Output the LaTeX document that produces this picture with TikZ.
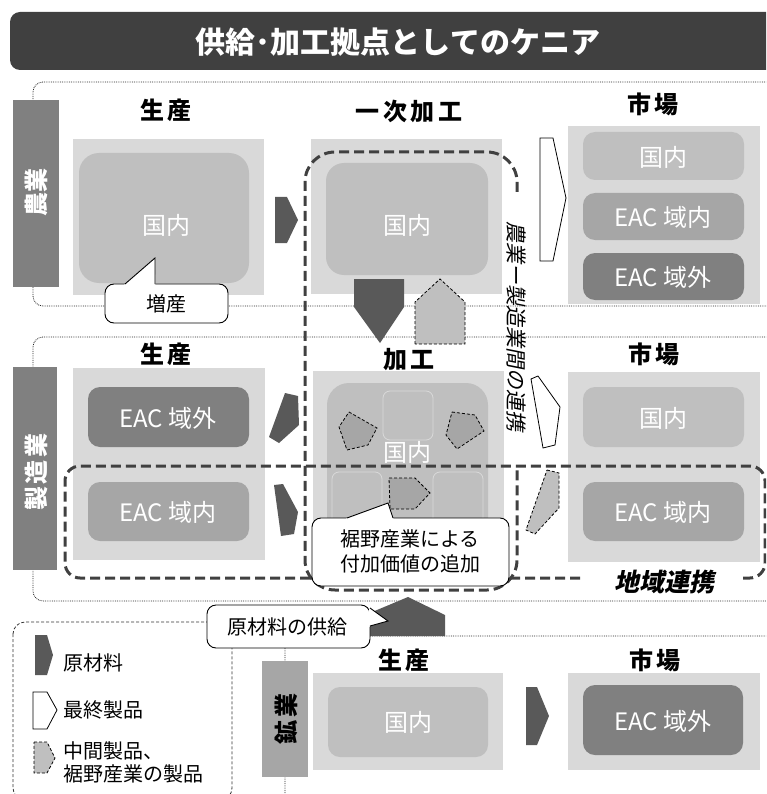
\documentclass[tikz,border=0pt]{standalone}
\usepackage{fontspec}
\setmainfont{Noto Sans CJK JP}
\newfontfamily\hdrfont[LetterSpace=15]{Noto Sans CJK JP}
\newfontfamily\vlfont[LetterSpace=12]{Noto Sans CJK JP}
\newfontfamily\slfont[FakeSlant=0.2]{Noto Sans CJK JP}
\definecolor{titlegray}{HTML}{404040}
\definecolor{panelc}{HTML}{D9D9D9}
\definecolor{innerA}{HTML}{BFBFBF}
\definecolor{innerB}{HTML}{A6A6A6}
\definecolor{innerC}{HTML}{808080}
\definecolor{darkarr}{HTML}{595959}
\definecolor{dashcol}{HTML}{404040}
\begin{document}
\begin{tikzpicture}[x=1pt,y=-1pt,
  panelbg/.style={fill=panelc},
  innerbox/.style={rounded corners=12pt},
  ptxt/.style={text=white,font=\fontsize{24}{28}\selectfont},
  hdr/.style={font=\hdrfont\bfseries\fontsize{24}{28}\selectfont},
  sect/.style={densely dotted, line width=0.8pt, black!85},
  regdash/.style={dashcol, line width=3pt, dash pattern=on 10pt off 5pt},
  callout/.style={fill=white, draw=black, line width=0.9pt, rounded corners=9pt},
  arrdark/.style={fill=darkarr},
  arrwhite/.style={fill=white, draw=black, line width=0.8pt},
  arrgray/.style={fill=innerA, draw=black, line width=0.8pt, dash pattern=on 3pt off 2pt},
  arrgrayB/.style={fill=innerB, draw=black, line width=0.8pt, dash pattern=on 3pt off 2pt},
  lbl/.style={font=\fontsize{20}{24}\selectfont},
  subbox/.style={draw=panelc, line width=0.8pt, rounded corners=7pt},
]
\useasboundingbox (0,0) rectangle (766,794);
\clip (0,0) rectangle (766,794);

% title
\fill[titlegray, rounded corners=10pt] (10,12) rectangle (790,70);
\node[text=white, font=\bfseries\fontsize{30}{33}\selectfont] (title) at (398,42) {供給･加工拠点としてのケニア};

% section borders
\draw[sect, rounded corners=10pt] (790,82) -- (33,82) -- (33,306) -- (790,306);
\draw[sect, rounded corners=10pt] (790,337) -- (33,337) -- (33,601) -- (790,601);
\draw[sect, rounded corners=10pt] (285,800) -- (285,636) -- (790,636);

% side labels
\fill[innerC] (13,100) rectangle (59,287);
\node[rotate=90, text=white, font=\bfseries\fontsize{24}{28}\selectfont] (lagri) at (36,193) {農業};
\fill[innerC] (13,367) rectangle (57,570);
\node[rotate=90, text=white, font=\vlfont\bfseries\fontsize{24}{28}\selectfont] (lmanu) at (36,472) {製造業};
\fill[innerB] (262,661) rectangle (308,777);
\node[rotate=90, text=black, font=\vlfont\bfseries\fontsize{24}{28}\selectfont] (lmine) at (286,719) {鉱業};

% headers
\node[hdr] (h1) at (166,110) {生産};
\node[hdr] (h2) at (409,111) {一次加工};
\node[hdr] (h3) at (653,104) {市場};
\node[hdr] (h4) at (166,354) {生産};
\node[hdr] (h5) at (409,360) {加工};
\node[hdr] (h6) at (654,354) {市場};
\node[hdr] (h7) at (404,660) {生産};
\node[hdr] (h8) at (655,660) {市場};

% top row panels
\fill[panelbg] (73,139) rectangle (264,295);
\fill[innerA, rounded corners=20pt] (79,153) rectangle (249,283);
\node[ptxt] (t1) at (166,225) {国内};
\fill[panelbg] (311,139) rectangle (502,294);
\fill[innerA, rounded corners=18pt] (326,163) rectangle (488,275);
\node[ptxt] (t2) at (407,225) {国内};
\fill[panelbg] (568,126) rectangle (760,304);
\fill[innerA, innerbox] (583,132) rectangle (744,180);
\node[ptxt] (t3) at (663,157) {国内};
\fill[innerB, innerbox] (583,193) rectangle (744,240);
\node[ptxt] (t4) at (663,217) {EAC 域内};
\fill[innerC, innerbox] (583,253) rectangle (744,300);
\node[ptxt] (t5) at (663,277) {EAC 域外};

% middle row panels
\fill[panelbg] (73,368) rectangle (265,560);
\fill[innerC, innerbox] (88,387) rectangle (249,447);
\node[ptxt] (m1) at (168,418) {EAC 域外};
\fill[innerB, innerbox] (88,482) rectangle (249,541);
\node[ptxt] (m2) at (168,512) {EAC 域内};
\fill[panelbg] (313,371) rectangle (504,562);
\fill[innerA, rounded corners=22pt] (327,383) rectangle (488,556);
\draw[subbox] (383,391) rectangle (433,440);
\draw[subbox] (332,472) rectangle (382,530);
\draw[subbox] (433,472) rectangle (483,530);
\node[ptxt] (m3) at (407,452) {国内};
\fill[panelbg] (568,372) rectangle (760,562);
\fill[innerA, innerbox] (583,387) rectangle (744,447);
\node[ptxt] (m4) at (663,418) {国内};
\fill[innerB, innerbox] (583,482) rectangle (744,541);
\node[ptxt] (m5) at (663,512) {EAC 域内};

% bottom row panels
\fill[panelbg] (313,673) rectangle (503,770);
\fill[innerA, innerbox] (328,687) rectangle (488,757);
\node[ptxt] (b1) at (408,722) {国内};
\fill[panelbg] (568,673) rectangle (760,770);
\fill[innerC, innerbox] (583,685) rectangle (743,755);
\node[ptxt] (b2) at (663,721) {EAC 域外};

% arrows top row
\fill[arrdark] (275,197) -- (287,197) -- (298,220) -- (287,243) -- (275,243) -- cycle;
\draw[arrwhite] (540,138) -- (553,138) -- (566,198) -- (553,261) -- (540,261) -- cycle;
\fill[arrdark] (354,279) -- (404,279) -- (404,307) -- (380,343) -- (354,307) -- cycle;
\draw[arrgray] (415,344) -- (415,302) -- (440,279) -- (465,302) -- (465,344) -- cycle;

% arrows middle row
\fill[arrdark] (285,393) -- (298,396) -- (299,425) -- (279,443) -- (269,437) -- cycle;
\fill[arrdark] (274,485) -- (283,484) -- (298,512) -- (294,534) -- (281,536) -- cycle;
\draw[arrgrayB] (349,412) -- (377,428) -- (368,445) -- (347,450) -- (339,427) -- cycle;
\draw[arrgrayB] (452,412) -- (475,415) -- (484,431) -- (457,449) -- (446,435) -- cycle;
\draw[arrgrayB] (389,478) -- (415,478) -- (430,493) -- (415,509) -- (390,509) -- cycle;
\draw[arrwhite] (531,379) -- (538,376) -- (560,407) -- (555,445) -- (543,448) -- cycle;
\draw[arrgray] (547,470) -- (559,473) -- (559,508) -- (535,534) -- (526,530) -- cycle;

% arrows bottom row
\fill[arrdark] (365,636) -- (365,615) -- (408,597) -- (445,615) -- (445,636) -- cycle;
\fill[arrdark] (526,687) -- (537,687) -- (549,716) -- (537,745) -- (526,745) -- cycle;

% dashed regions
\draw[regdash, rounded corners=30pt] (517,192) -- (517,152) -- (305,152) -- (305,590) -- (517,590) -- (517,467);
\draw[regdash, rounded corners=15pt] (580,578) -- (65,578) -- (65,466) -- (765,466) -- (765,578) -- (743,578);
\node[font=\slfont\bfseries\fontsize{25}{28}\selectfont] (reg) at (664,582) {地域連携};
\node[rotate=-90, font=\slfont\fontsize{21}{24}\selectfont] (agman) at (516,327) {農業ー製造業間の連携};

% callouts
\draw[callout] (105,284) rectangle (228,323);
\fill[white] (124,285) -- (125,284) -- (155,258) -- (155.4,285) -- cycle;
\draw[line width=0.9pt] (125,284) -- (155,258) -- (155,284);
\node[lbl] (c1) at (166,304) {増産};

\draw[callout] (312,518) rectangle (509,586);
\fill[white] (346,519) -- (347,518) -- (388,503) -- (393.5,519) -- cycle;
\draw[line width=0.9pt] (347,518) -- (388,503) -- (393,518);
\node[lbl, align=center, font=\fontsize{20}{25}\selectfont] (c2) at (410,551) {裾野産業による\\付加価値の追加};

% legend
\draw[black!80, line width=0.8pt, dash pattern=on 3pt off 2pt, rounded corners=12pt] (13,622) rectangle (232,800);
\fill[arrdark] (35,635) -- (47,635) -- (53,655) -- (47,675) -- (35,675) -- cycle;
\node[lbl, anchor=west] (g1) at (60,663) {原材料};
\draw[arrwhite] (33,692) -- (47,692) -- (57,710) -- (47,729) -- (33,729) -- cycle;
\node[lbl, anchor=west] (g2) at (60,710) {最終製品};
\draw[arrgray] (34,742) -- (47,742) -- (55,758) -- (47,773) -- (34,773) -- cycle;
\node[lbl, anchor=west, align=left, font=\fontsize{20}{23}\selectfont] (g3) at (60,762) {中間製品、\\裾野産業の製品};

\draw[callout] (207,605) rectangle (370,648);
\fill[white] (369,609) -- (370,608) -- (388,621) -- (370,626) -- (369,627) -- cycle;
\draw[line width=0.9pt] (370,608) -- (388,621) -- (370,626);
\node[lbl] (c3) at (287,627) {原材料の供給};
\end{tikzpicture}
\end{document}
